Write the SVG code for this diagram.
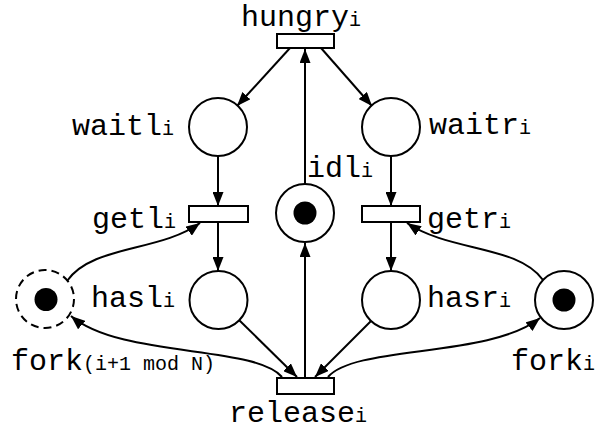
<svg xmlns="http://www.w3.org/2000/svg" width="598" height="431" viewBox="0 0 598 431">
  <defs>
    <marker id="arrow" markerUnits="userSpaceOnUse" markerWidth="15" markerHeight="11" refX="14" refY="5.5" orient="auto">
      <path d="M0,0 L14,5.5 L0,11 z" fill="#000"/>
    </marker>
    <style>
      .place { fill: #fff; stroke: #000; stroke-width: 2; }
      .dashed { stroke-dasharray: 8 5; }
      .trans { fill: #fff; stroke: #000; stroke-width: 2; }
      .token { fill: #000; }
      .arc { fill: none; stroke: #000; stroke-width: 2; marker-end: url(#arrow); }
      .lbl { font-family: "Liberation Mono", "Courier New", monospace; font-size: 30px; fill: #000; }
      .sub { font-size: 20px; }
    </style>
  </defs>

  <rect width="598" height="431" fill="#fff"/>

  <!-- arcs -->
  <g id="connectors">
    <path class="arc" d="M290,48 L237,106"/>
    <path class="arc" d="M321,48 L372,106"/>
    <path class="arc" d="M305,184 L305,49"/>
    <path class="arc" d="M218,156 L218,206"/>
    <path class="arc" d="M391,156 L391,206"/>
    <path class="arc" d="M218,222 L218,271"/>
    <path class="arc" d="M391,222 L391,271"/>
    <path class="arc" d="M239,320 L297,377"/>
    <path class="arc" d="M371,321 L315,377"/>
    <path class="arc" d="M305,378 L305,243"/>
    <path class="arc" d="M282,377 C255,345 120,358 71,316"/>
    <path class="arc" d="M328,377 C355,345 490,358 540,318"/>
    <path class="arc" d="M67,281 C92,245 160,252 200,223"/>
    <path class="arc" d="M543,280 C518,245 450,252 407,223"/>
  </g>

  <!-- transitions -->
  <g id="hungry">
    <rect class="trans" x="277" y="34" width="57" height="14"/>
    <text class="lbl" x="241" y="26">hungry<tspan class="sub">i</tspan></text>
  </g>
  <g id="getl">
    <rect class="trans" x="189" y="206" width="59" height="16"/>
    <text class="lbl" x="92" y="228">getl<tspan class="sub">i</tspan></text>
  </g>
  <g id="getr">
    <rect class="trans" x="362" y="206" width="58" height="16"/>
    <text class="lbl" x="427" y="228">getr<tspan class="sub">i</tspan></text>
  </g>
  <g id="release">
    <rect class="trans" x="277" y="378" width="57" height="16"/>
    <text class="lbl" x="229" y="422">release<tspan class="sub">i</tspan></text>
  </g>

  <!-- places -->
  <g id="waitl">
    <circle class="place" cx="218" cy="127" r="29"/>
    <text class="lbl" x="72" y="135">waitl<tspan class="sub">i</tspan></text>
  </g>
  <g id="waitr">
    <circle class="place" cx="391" cy="127" r="29"/>
    <text class="lbl" x="429" y="134">waitr<tspan class="sub">i</tspan></text>
  </g>
  <g id="idl">
    <circle class="place" cx="305" cy="213" r="29"/>
    <circle class="token" cx="305" cy="213" r="11.5"/>
    <text class="lbl" x="307" y="177">idl<tspan class="sub">i</tspan></text>
  </g>
  <g id="hasl">
    <circle class="place" cx="218.5" cy="300" r="29"/>
    <text class="lbl" x="91" y="307">hasl<tspan class="sub">i</tspan></text>
  </g>
  <g id="hasr">
    <circle class="place" cx="391" cy="300" r="29"/>
    <text class="lbl" x="427" y="307">hasr<tspan class="sub">i</tspan></text>
  </g>
  <g id="fork-next">
    <circle class="place dashed" cx="45" cy="299" r="29"/>
    <circle class="token" cx="46" cy="299.5" r="11.5"/>
    <text class="lbl" x="11" y="370">fork<tspan class="sub">(i+1 mod N)</tspan></text>
  </g>
  <g id="fork">
    <circle class="place" cx="564" cy="300" r="29"/>
    <circle class="token" cx="564" cy="300" r="11.5"/>
    <text class="lbl" x="511" y="370">fork<tspan class="sub">i</tspan></text>
  </g>
</svg>
